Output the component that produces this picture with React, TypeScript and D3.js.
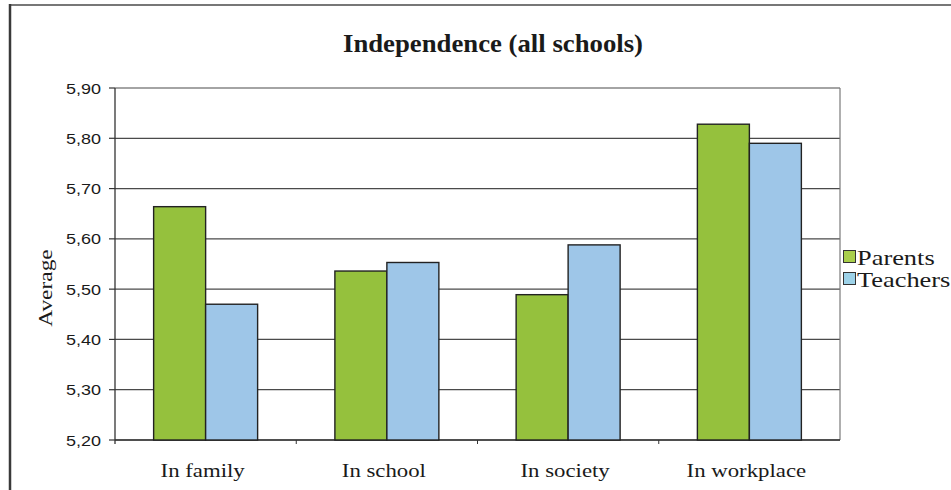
import React from "react";
import * as d3 from "d3";

const categories = ["In family", "In school", "In society", "In workplace"];
const seriesNames = ["Parents", "Teachers"];
const parents = [5.664, 5.536, 5.489, 5.828];
const teachers = [5.47, 5.553, 5.588, 5.79];
const yTicks = [5.2, 5.3, 5.4, 5.5, 5.6, 5.7, 5.8, 5.9];

const barColors = ["#95c13d", "#9ec6e8"];
const legendColors = ["#a9cf4c", "#9dd2e8"];

const W = 951;
const H = 490;
const plot = { left: 115, right: 840, top: 88, bottom: 440 };

const serif = "'Liberation Serif', 'Times New Roman', serif";
const sans = "'Liberation Sans', Arial, sans-serif";

type TProps = {
  x: number;
  y: number;
  anchor?: string;
  size: number;
  family: string;
  weight?: string;
  rotate?: number;
  stretch?: number;
  children: React.ReactNode;
};

// Text drawn with a slight horizontal stretch (along its own baseline)
function T(props: TProps) {
  const s = props.stretch ?? 1.2;
  const tf = props.rotate
    ? `translate(${props.x},${props.y}) rotate(${props.rotate}) scale(${s},1)`
    : `translate(${props.x},${props.y}) scale(${s},1)`;
  return (
    <text
      transform={tf}
      textAnchor={props.anchor ?? "start"}
      fontSize={props.size}
      fontFamily={props.family}
      fontWeight={props.weight ?? "normal"}
      fill="#1a1a1a"
    >
      {props.children}
    </text>
  );
}

export default function App() {
  const x = d3
    .scaleBand<string>()
    .domain(categories)
    .range([plot.left, plot.right])
    .paddingInner(0)
    .paddingOuter(0);
  const xs = d3
    .scaleBand<string>()
    .domain(seriesNames)
    .range([0, x.bandwidth()])
    .paddingInner(0)
    .paddingOuter(0.743);
  const y = d3.scaleLinear().domain([5.2, 5.9]).range([plot.bottom, plot.top]);
  const fmt = (v: number) => v.toFixed(2).replace(".", ",");
  const series = [parents, teachers];

  return (
    <svg
      width={W}
      height={H}
      style={{ position: "absolute", left: 0, top: 0, background: "#fff" }}
    >
      <rect x={0} y={0} width={W} height={H} fill="#fff" />
      {/* outer chart frame */}
      <line x1={10} x2={W + 5} y1={5} y2={5} stroke="#777" strokeWidth={2} />
      <line x1={10} x2={10} y1={4} y2={H + 5} stroke="#3a3a3a" strokeWidth={2.5} />

      <T x={493} y={52} anchor="middle" size={25} family={serif} weight="bold" stretch={1.07}>
        Independence (all schools)
      </T>

      {/* gridlines */}
      {yTicks.map((t) => (
        <line
          key={"g" + t}
          x1={plot.left}
          x2={plot.right}
          y1={y(t)}
          y2={y(t)}
          stroke="#4a4a4a"
          strokeWidth={1.2}
        />
      ))}
      {/* plot frame */}
      <line x1={plot.right} x2={plot.right} y1={plot.top} y2={plot.bottom} stroke="#7a7a7a" strokeWidth={1.2} />
      <line x1={plot.left} x2={plot.left} y1={plot.top} y2={plot.bottom + 4} stroke="#333" strokeWidth={1.3} />
      <line x1={plot.left} x2={plot.right} y1={plot.bottom} y2={plot.bottom} stroke="#333" strokeWidth={1.3} />

      {/* y ticks and labels */}
      {yTicks.map((t) => (
        <g key={"t" + t}>
          <line x1={plot.left - 6} x2={plot.left} y1={y(t)} y2={y(t)} stroke="#333" strokeWidth={1.2} />
          <T x={101} y={y(t) + 5.5} anchor="end" size={15} family={sans}>
            {fmt(t)}
          </T>
        </g>
      ))}

      {/* category boundary ticks */}
      {categories.slice(1).map((c) => (
        <line
          key={"ct" + c}
          x1={x(c)!}
          x2={x(c)!}
          y1={plot.bottom}
          y2={plot.bottom + 4}
          stroke="#333"
          strokeWidth={1}
        />
      ))}

      {/* bars */}
      {categories.map((c, i) =>
        seriesNames.map((s, j) => {
          const v = series[j][i];
          return (
            <rect
              key={c + s}
              x={x(c)! + xs(s)!}
              y={y(v)}
              width={xs.bandwidth()}
              height={plot.bottom - y(v)}
              fill={barColors[j]}
              stroke="#222"
              strokeWidth={1.4}
            />
          );
        })
      )}

      {/* category labels */}
      {categories.map((c) => (
        <T key={"l" + c} x={x(c)! + x.bandwidth() / 2 - 3} y={477} anchor="middle" size={19} family={serif}>
          {c}
        </T>
      ))}

      {/* y axis title */}
      <T x={52} y={288} anchor="middle" size={19.5} family={serif} rotate={-90}>
        Average
      </T>

      {/* legend */}
      {seriesNames.map((s, j) => (
        <g key={"lg" + s}>
          <rect
            x={843.5}
            y={250.5 + j * 22}
            width={12}
            height={12}
            fill={legendColors[j]}
            stroke="#333"
            strokeWidth={1}
          />
          <T x={857} y={265 + j * 22} size={22} family={serif}>
            {s}
          </T>
        </g>
      ))}
    </svg>
  );
}
